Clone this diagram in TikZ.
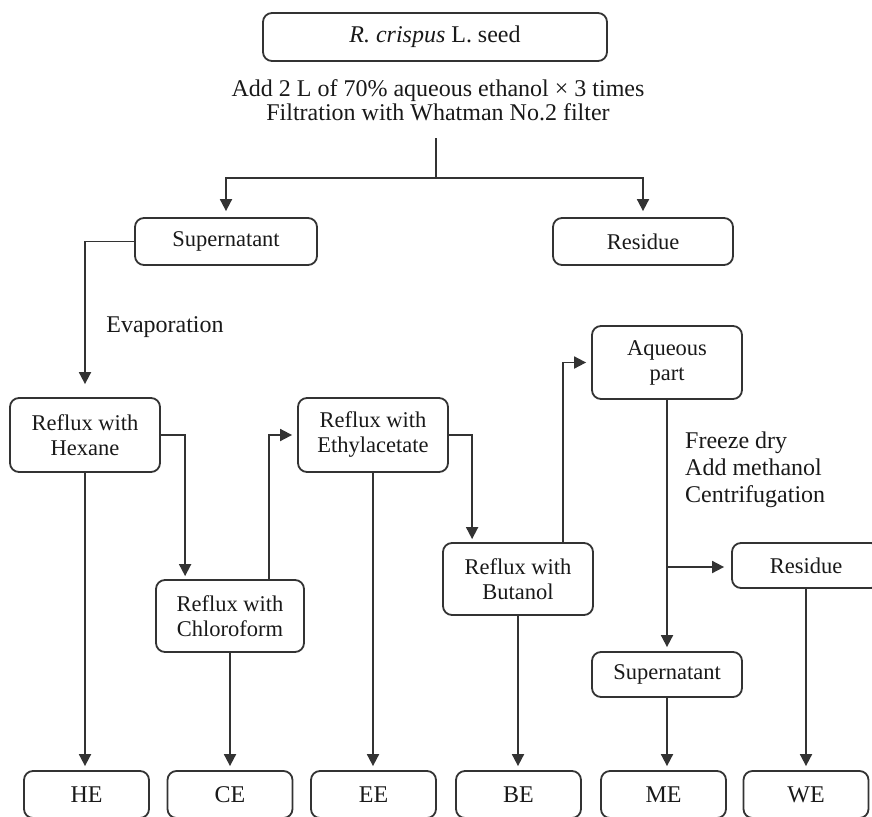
\documentclass[tikz,border=0pt]{standalone}
\usepackage{fontspec}
\setmainfont{Liberation Serif}
\usetikzlibrary{arrows.meta}
\begin{document}
\begin{tikzpicture}[x=1pt,y=-1pt,
  box/.style={draw=black!80, line width=1.8pt, rounded corners=9pt, align=center, inner sep=0pt, font=\fontsize{22.5}{25}\selectfont, text=black!90},
  lbl/.style={font=\fontsize{24}{24}\selectfont, text=black!90, inner sep=0pt},
  arr/.style={draw=black!80, line width=1.8pt, -{Triangle[length=12pt,width=12pt]}, shorten >=4pt},
  ln/.style={draw=black!80, line width=1.8pt}]
\useasboundingbox (0,0) rectangle (872,816);
% boxes
\node[box, minimum width=344pt, minimum height=48pt, font=\fontsize{24}{26}\selectfont] (seed) at (435,37) {\textit{R. crispus} L. seed};
\node[lbl, align=center] (add) at (438,100) {Add 2 L of 70\% aqueous ethanol × 3 times\\Filtration with Whatman No.2 filter};
\node[box, minimum width=182pt, minimum height=47pt] (sup) at (226,241.5) {Supernatant};
\node[box, minimum width=180pt, minimum height=47pt] (res) at (643,241.5) {Residue};
\node[lbl] (evap) at (165,327) {Evaporation};
\node[box, minimum width=150pt, minimum height=74pt] (hex) at (85,435) {Reflux with\\Hexane};
\node[box, minimum width=148pt, minimum height=72pt] (chl) at (230,616) {Reflux with\\Chloroform};
\node[box, minimum width=150pt, minimum height=74pt] (eth) at (373,435) {Reflux with\\Ethylacetate};
\node[box, minimum width=150pt, minimum height=72pt] (but) at (518,579) {Reflux with\\Butanol};
\node[box, minimum width=150pt, minimum height=73pt] (aq) at (667,362.5) {Aqueous\\part};
\node[lbl, anchor=west, align=left, font=\fontsize{24}{27}\selectfont] (steps) at (685,470) {Freeze dry\\Add methanol\\Centrifugation};
\node[box, minimum width=148pt, minimum height=45pt] (res2) at (806,565.5) {Residue};
\node[box, minimum width=150pt, minimum height=45pt] (sup2) at (667,674.5) {Supernatant};
% bottom boxes
\foreach \n/\t/\cx in {he/HE/86.5, ce/CE/230, ee/EE/373.5, be/BE/518.5, me/ME/663.5, we/WE/806}{
  \node[box, minimum width=125pt, minimum height=47pt, font=\fontsize{24}{26}\selectfont] (\n) at (\cx,794.5) {\t};
}
% connectors
\coordinate (j0) at (436,138);
\coordinate (j1) at (436,178);
\draw[ln] (j0) -- (j1);
\draw[arr, shorten >=6pt] (j1) -| (sup.north);
\draw[arr, shorten >=6pt] (j1) -| (res.north);
\draw[arr, shorten >=13pt] (sup.west) -| (hex.north);
\draw[arr, shorten >=3pt] (hex.east) -| ([xshift=30pt]chl.north west);
\draw[arr, shorten >=5pt] ([xshift=-36pt]chl.north east) |- (eth.west);
\draw[arr, shorten >=3pt] (eth.east) -| ([xshift=30pt]but.north west);
\draw[arr, shorten >=5pt] ([xshift=-31pt]but.north east) |- (aq.west);
\draw[arr] (aq.south) -- (sup2.north);
\coordinate (br) at (667,567);
\draw[arr, shorten >=7pt] (br) -- (br -| res2.west);
\draw[arr] (hex.south) -- (hex.south |- he.north);
\draw[arr] (chl.south) -- (chl.south |- ce.north);
\draw[arr] (eth.south) -- (eth.south |- ee.north);
\draw[arr] (but.south) -- (but.south |- be.north);
\draw[arr] (sup2.south) -- (sup2.south |- me.north);
\draw[arr] (res2.south) -- (res2.south |- we.north);
\end{tikzpicture}
\end{document}
